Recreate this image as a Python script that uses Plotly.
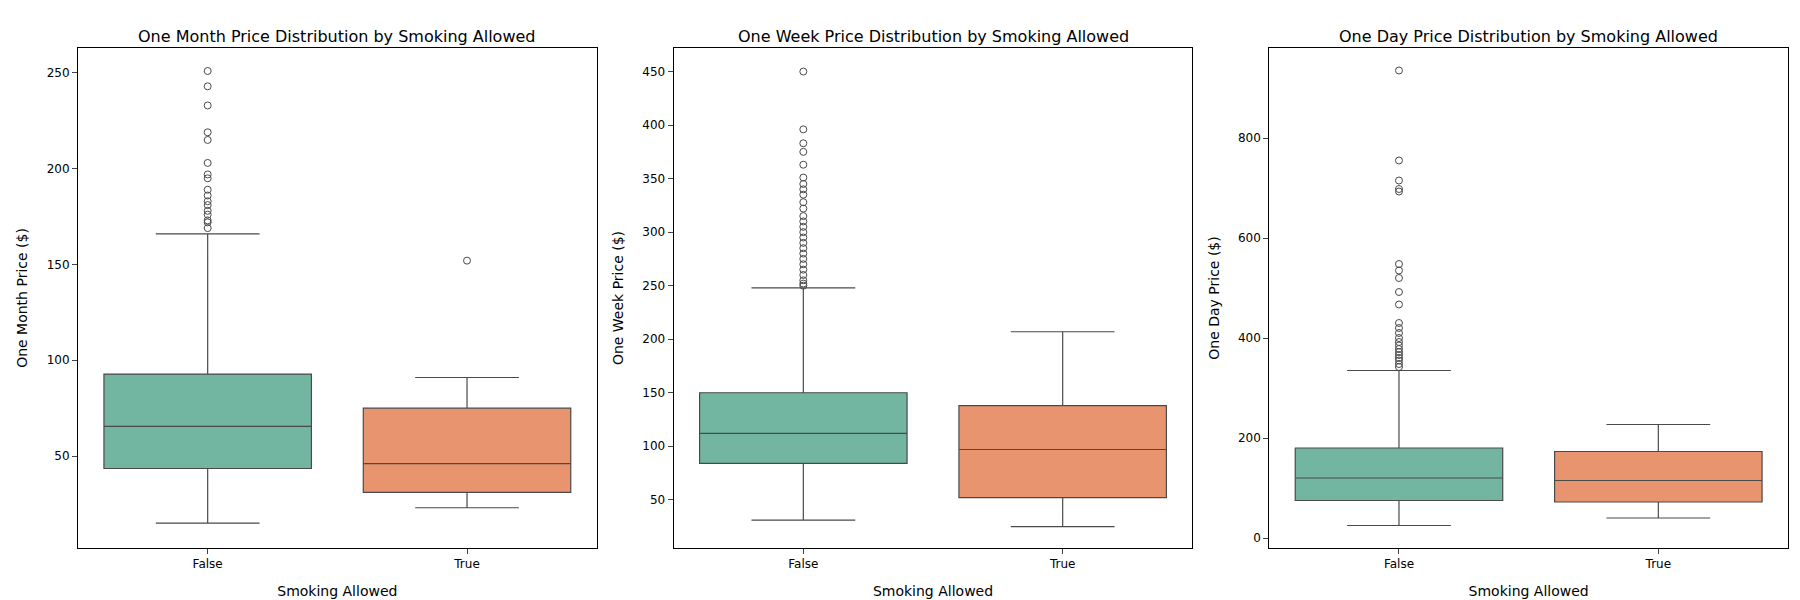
import plotly.graph_objects as go
from plotly.subplots import make_subplots

groups = ["False", "True"]
colors = ["#72b6a1", "#e8956f"]

titles = [
    "One Month Price Distribution by Smoking Allowed",
    "One Week Price Distribution by Smoking Allowed",
    "One Day Price Distribution by Smoking Allowed",
]
ylabels = ["One Month Price ($)", "One Week Price ($)", "One Day Price ($)"]

# box stats per panel: [False, True]
month_lower = [15, 23]
month_q1 = [43.5, 31]
month_median = [65.5, 46]
month_q3 = [92.8, 75]
month_upper = [166, 91]
month_out_false = [251, 243, 233, 219, 215, 203, 197, 195, 189, 186, 183, 181, 178, 176, 173, 172, 169]
month_out_true = [152]

week_lower = [31, 25]
week_q1 = [84, 52]
week_median = [112, 97]
week_q3 = [150, 138]
week_upper = [248, 207]
week_out_false = [450, 396, 383, 375, 363, 351, 345, 340, 335, 328, 322, 315, 310, 305, 300,
                  295, 290, 285, 280, 275, 270, 265, 260, 255, 252, 250]
week_out_true = []

day_lower = [25, 40]
day_q1 = [75, 72]
day_median = [120, 115]
day_q3 = [180, 173]
day_upper = [335, 227]
day_out_false = [935, 755, 715, 698, 693, 548, 535, 520, 492, 467, 430, 420, 410, 400, 392,
                 385, 378, 372, 366, 360, 355, 348, 342]
day_out_true = []

panels = [
    (month_lower, month_q1, month_median, month_q3, month_upper, [month_out_false, month_out_true], [2, 263]),
    (week_lower, week_q1, week_median, week_q3, week_upper, [week_out_false, week_out_true], [5, 472]),
    (day_lower, day_q1, day_median, day_q3, day_upper, [day_out_false, day_out_true], [-20, 980]),
]

fig = make_subplots(rows=1, cols=3, subplot_titles=titles, horizontal_spacing=0.045)

for col, (lo, q1, med, q3, up, outs, yr) in enumerate(panels, start=1):
    for i, g in enumerate(groups):
        fig.add_trace(go.Box(
            x=[g], lowerfence=[lo[i]], q1=[q1[i]], median=[med[i]], q3=[q3[i]], upperfence=[up[i]],
            fillcolor=colors[i], line=dict(color="#4a4a4a", width=1.2), width=0.8,
            boxpoints=False, showlegend=False,
        ), row=1, col=col)
        if outs[i]:
            fig.add_trace(go.Scatter(
                x=[g] * len(outs[i]), y=outs[i], mode="markers",
                marker=dict(symbol="circle-open", size=7, color="#4a4a4a", line=dict(width=1)),
                showlegend=False,
            ), row=1, col=col)
    fig.update_xaxes(title_text="Smoking Allowed", row=1, col=col)
    fig.update_yaxes(title_text=ylabels[col - 1], range=yr, row=1, col=col)

fig.update_xaxes(showline=True, mirror=True, linecolor="black", ticks="outside",
                 showgrid=False, type="category", range=[-0.5, 1.5])
fig.update_yaxes(showline=True, mirror=True, linecolor="black", ticks="outside",
                 showgrid=False, zeroline=False)
fig.update_annotations(font=dict(size=16, color="black"))
fig.update_layout(
    width=1800, height=600, plot_bgcolor="white", paper_bgcolor="white",
    font=dict(family="DejaVu Sans", size=12, color="black"),
    margin=dict(l=70, r=20, t=40, b=60),
)
fig.write_html("out.html")
